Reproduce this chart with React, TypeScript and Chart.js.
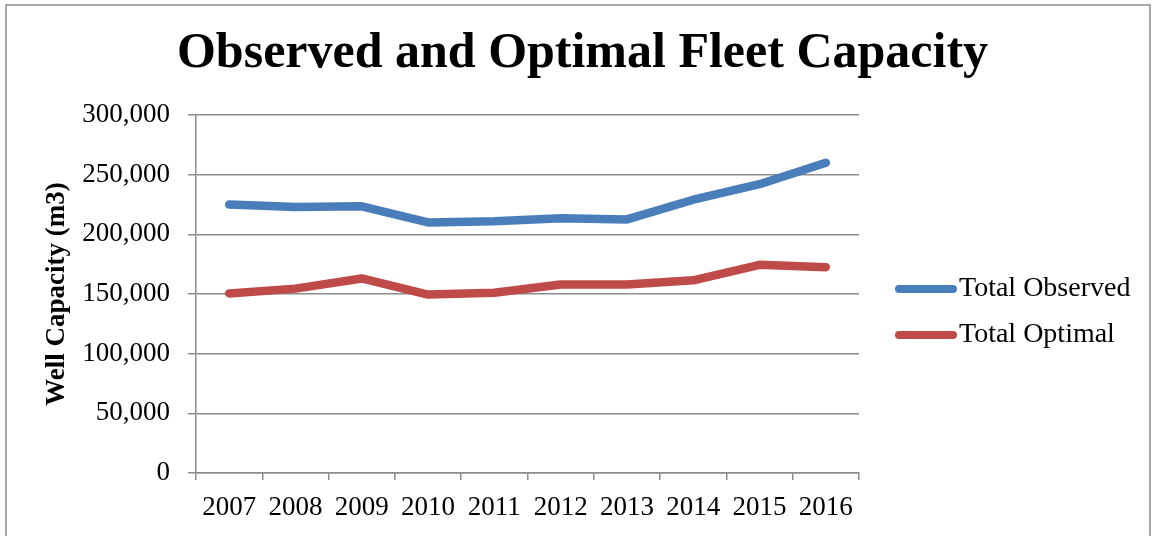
import React, { useEffect, useRef } from "react";
import { Chart, registerables } from "chart.js";

Chart.register(...registerables);

const years = ["2007", "2008", "2009", "2010", "2011", "2012", "2013", "2014", "2015", "2016"];
const totalObserved = [225000, 223000, 223500, 210000, 211000, 213500, 212500, 229000, 242000, 260000];
const totalOptimal = [150500, 154500, 163000, 149500, 151000, 158000, 158000, 161500, 174500, 172500];
const yTicks = { min: 0, max: 300000, step: 50000 };

const chartTitle = "Observed and Optimal Fleet Capacity";
const yTitle = "Well Capacity (m3)";

const BLUE = "#4a7ebb";
const RED = "#be4b48";
const GRID = "#8c8c8c";

const borderPlugin = {
  id: "frameBorder",
  beforeDraw(chart: any) {
    const ctx = chart.ctx;
    ctx.save();
    ctx.fillStyle = "#ffffff";
    ctx.fillRect(0, 0, chart.width, chart.height);
    ctx.strokeStyle = "#8c8c8c";
    ctx.lineWidth = 1.5;
    ctx.strokeRect(6, 5, 1144, 600);
    ctx.restore();
  },
};

const legendPlugin = {
  id: "sideLegend",
  afterDraw(chart: any) {
    const ctx = chart.ctx;
    const ys = [289, 335];
    ctx.save();
    chart.data.datasets.forEach((ds: any, i: number) => {
      const y = ys[i];
      ctx.strokeStyle = ds.borderColor;
      ctx.lineWidth = 8;
      ctx.lineCap = "round";
      ctx.beginPath();
      ctx.moveTo(899, y);
      ctx.lineTo(953, y);
      ctx.stroke();
      ctx.fillStyle = "#000000";
      ctx.font = "28px 'Liberation Serif'";
      ctx.textBaseline = "middle";
      ctx.textAlign = "left";
      ctx.fillText(ds.label, 959, y);
    });
    ctx.restore();
  },
};

export default function App() {
  const ref = useRef<HTMLCanvasElement | null>(null);
  useEffect(() => {
    if (!ref.current) return;
    const chart = new Chart(ref.current, {
      type: "line",
      data: {
        labels: years,
        datasets: [
          {
            label: "Total Observed",
            data: totalObserved,
            borderColor: BLUE,
            backgroundColor: BLUE,
            borderWidth: 8.5,
            borderCapStyle: "round",
            borderJoinStyle: "round",
            pointRadius: 0,
            tension: 0,
            yAxisID: "y",
          },
          {
            label: "Total Optimal",
            data: totalOptimal,
            borderColor: RED,
            backgroundColor: RED,
            borderWidth: 8.5,
            borderCapStyle: "round",
            borderJoinStyle: "round",
            pointRadius: 0,
            tension: 0,
            yAxisID: "y",
          },
        ],
      },
      options: {
        responsive: false,
        animation: false,
        layout: { padding: { left: 12, right: 0, top: 0, bottom: 0 } },
        plugins: {
          legend: { display: false },
          tooltip: { enabled: false },
          title: {
            display: true,
            text: chartTitle,
            color: "#000000",
            font: { family: "'Liberation Serif'", size: 50, weight: "bold", lineHeight: 1.2 },
            padding: { top: 24, bottom: 31 },
          },
        },
        scales: {
          x: {
            offset: true,
            grid: {
              offset: true,
              drawOnChartArea: false,
              drawTicks: true,
              tickLength: 7,
              color: GRID,
              lineWidth: 1.5,
            },
            border: { color: GRID, width: 1.5 },
            ticks: {
              color: "#000000",
              font: { family: "'Liberation Serif'", size: 27 },
              padding: 12,
              maxRotation: 0,
              autoSkip: false,
            },
            afterFit(scale: any) {
              scale.height = 63;
            },
          },
          y: {
            position: "left",
            min: yTicks.min,
            max: yTicks.max,
            grid: {
              color: GRID,
              lineWidth: 1.5,
              tickLength: 8,
            },
            border: { color: GRID, width: 1.5 },
            ticks: {
              stepSize: yTicks.step,
              color: "#000000",
              font: { family: "'Liberation Serif'", size: 27 },
              padding: 18,
              callback: (v: any) => Number(v).toLocaleString("en-US"),
            },
            title: {
              display: true,
              text: yTitle,
              color: "#000000",
              font: { family: "'Liberation Serif'", size: 27, weight: "bold", lineHeight: 1.2 },
              padding: { top: 29, bottom: 0 },
            },
            afterFit(scale: any) {
              scale.width = 184;
            },
          },
          legendSpace: {
            type: "linear",
            position: "right",
            display: true,
            grid: { display: false, drawTicks: false },
            border: { display: false },
            ticks: { display: false },
            afterFit(scale: any) {
              scale.width = 294;
            },
          },
        },
      },
      plugins: [borderPlugin, legendPlugin],
    } as any);
    return () => chart.destroy();
  }, []);
  return (
    <div style={{ position: "absolute", left: 0, top: 0, width: 1153, height: 536, background: "#fff" }}>
      <canvas ref={ref} width={1153} height={536} />
    </div>
  );
}
